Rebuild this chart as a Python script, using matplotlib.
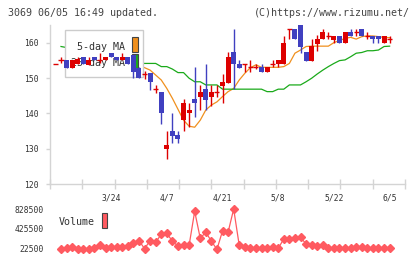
import matplotlib
matplotlib.use('Agg')
import matplotlib.pyplot as plt
import matplotlib.transforms as mtransforms
from matplotlib.patches import Rectangle
import numpy as np


# DATA (index 0 = first volume day)

day_idx = list(range(-1, 60))

opens = [154.0,
         155.2, 155.2, 153.0, 153.9, 156.1, 153.8, 156.1, 155.2, 155.2, 157.1,
         156.1, 155.2, 156.1, 156.6, 153.0, 151.2, 151.4, 146.9, 146.2, 129.8,
         135.0, 133.9, 138.1, 140.0, 144.1, 144.8, 146.9, 144.8, 146.2, 147.9,
         148.7, 157.3, 153.9, 153.9, 153.1, 153.1, 153.1, 151.9, 153.9, 153.9,
         153.9, 164.0, 164.0, 165.1, 157.3, 155.0, 159.7, 161.0, 162.0, 160.9,
         162.0, 159.9, 163.0, 163.0, 164.0, 162.0, 162.0, 162.0, 159.9, 161.0]
closes = [154.0,
          155.2, 153.0, 155.1, 155.4, 153.9, 155.2, 155.2, 155.2, 156.1, 155.9,
          155.2, 156.1, 153.9, 151.9, 150.0, 151.2, 148.8, 146.9, 140.0, 131.0,
          133.7, 132.9, 143.0, 141.0, 142.9, 146.2, 143.8, 146.2, 146.2, 149.0,
          156.1, 153.9, 153.0, 153.9, 153.1, 153.1, 151.9, 153.1, 153.9, 155.2,
          160.1, 164.0, 161.0, 159.0, 155.0, 159.1, 161.0, 163.0, 162.0, 162.0,
          159.9, 163.0, 162.0, 163.0, 162.0, 162.0, 161.0, 161.0, 162.0, 161.0]
highs = [154.0,
         155.9, 155.2, 155.2, 155.9, 156.1, 155.9, 156.1, 157.1, 156.1, 157.1,
         156.1, 157.1, 156.1, 156.6, 153.3, 152.1, 151.4, 148.1, 146.2, 135.0,
         140.0, 135.0, 144.1, 142.9, 153.3, 148.1, 154.0, 148.1, 148.1, 151.2,
         157.3, 164.0, 155.2, 153.9, 155.2, 153.9, 153.9, 153.1, 155.2, 155.2,
         162.1, 164.0, 164.0, 165.1, 157.3, 161.0, 162.3, 164.0, 163.0, 162.0,
         162.0, 163.0, 164.0, 164.0, 164.0, 163.0, 162.0, 162.0, 162.0, 162.0]
lows = [154.0,
        154.4, 153.0, 153.0, 153.9, 153.9, 153.8, 155.2, 154.4, 155.2, 155.9,
        155.2, 155.2, 153.9, 150.0, 150.0, 149.8, 146.8, 145.9, 136.9, 127.0,
        131.7, 131.7, 135.0, 136.1, 138.9, 141.0, 141.0, 142.1, 144.8, 142.9,
        148.7, 146.9, 153.0, 151.9, 151.9, 152.5, 151.9, 151.9, 153.1, 153.1,
        153.9, 161.0, 161.0, 157.1, 155.0, 155.0, 157.8, 161.0, 161.0, 159.9,
        159.9, 159.9, 162.0, 162.0, 162.0, 161.0, 159.9, 159.9, 159.9, 159.9]

ma5_idx = list(range(4, 60))
ma5 = [155.2, 155.0, 155.2, 155.4, 155.5, 155.6, 155.6, 155.6, 155.4, 154.8,
       153.6, 153.0, 152.3, 150.9, 149.5, 147.1, 144.3, 141.2, 138.1, 136.4,
       136.1, 138.1, 141.0, 142.4, 143.3, 144.8, 146.2, 147.1, 149.5, 151.4,
       153.0, 153.8, 153.1, 153.1, 153.1, 153.1, 153.3, 154.2, 157.1, 158.0,
       159.0, 159.1, 159.1, 159.1, 159.1, 160.1, 160.7, 161.3, 161.6, 161.1,
       161.8, 162.0, 162.0, 161.8, 161.6, 161.5]

ma25_idx = list(range(0, 60))
ma25 = [159.0, 158.7, 158.5, 158.1, 157.9, 157.6, 157.2, 157.0, 156.7, 156.3,
        156.0, 155.6, 155.3, 154.9, 154.3, 154.2, 154.2, 154.2, 153.3, 153.3,
        152.6, 151.6, 151.6, 150.0, 149.0, 149.0, 148.1, 148.1, 148.1, 146.9,
        146.9, 146.9, 146.9, 146.9, 146.9, 146.9, 146.9, 146.2, 146.2, 146.9,
        146.9, 148.1, 148.1, 148.1, 149.0, 150.0, 151.2, 152.3, 153.3, 154.2,
        155.0, 155.2, 156.1, 157.1, 157.3, 157.8, 157.8, 158.0, 159.0, 159.1]

volume = [16000, 36000, 70000, 16000, 22500, 16000, 36000, 97000, 36000, 70000,
          56000, 70000, 90000, 138000, 192000, 29000, 192000, 158000, 320000, 341000,
          178000, 83000, 97000, 97000, 781000, 239000, 361000, 178000, 16000, 388000,
          361000, 828000, 97000, 70000, 36000, 36000, 36000, 50000, 70000, 36000,
          226000, 226000, 239000, 260000, 124000, 104000, 90000, 110000, 36000, 50000,
          36000, 50000, 36000, 70000, 56000, 36000, 50000, 36000, 36000, 36000]

date_idx = [9, 19, 29, 39, 49, 59]
date_labels = ['3/24', '4/7', '4/21', '5/8', '5/22', '6/5']

price_ticks = [120, 130, 140, 150, 160]
vol_ticks = [22500, 425500, 828500]


# STYLE

W, H = 420, 259
RED, BLUE = '#dd0000', '#4040c0'
ORANGE, GREEN = '#f0901e', '#1aaa1a'
VOLC = '#ff5a60'
GRAY = '#d4d4d4'
TXT = '#333333'
plt.rcParams['font.family'] = 'DejaVu Sans Mono'

fig = plt.figure(figsize=(W / 100, H / 100), dpi=100)
px = mtransforms.Affine2D().scale(1 / W, -1 / H).translate(0, 1) + fig.transFigure

xlim = (-1.975, 61.76)

# main price axes
ax = fig.add_axes([50 / W, 1 - 184 / H, 355 / W, 159 / H])
ax.set_xlim(*xlim)
ax.set_ylim(120, 165.1)
for s in ['top', 'right']:
    ax.spines[s].set_visible(False)
for s in ['left', 'bottom']:
    ax.spines[s].set_color(GRAY)
    ax.spines[s].set_linewidth(1.0)

ax.set_yticks(price_ticks, [str(t) for t in price_ticks])
ax.tick_params(axis='y', length=3, width=1, color=GRAY, labelsize=5.8,
               labelcolor=TXT, pad=5.5)
ax.set_xticks(np.linspace(xlim[0], xlim[1], 12), [''] * 12)
ax.tick_params(axis='x', which='major', direction='inout', length=7, width=1,
               color=GRAY)
ax.set_xticks(date_idx, date_labels, minor=True)
ax.tick_params(axis='x', which='minor', length=0, labelsize=5.8,
               labelcolor=TXT, pad=6.5)

# moving averages (under legend box)
ax.plot(ma5_idx, ma5, color=ORANGE, lw=0.9, zorder=2)
ax.plot(ma25_idx, ma25, color=GREEN, lw=0.9, zorder=2)

# legend box, drawn below the candles
ax.add_patch(Rectangle((65, 30), 78, 47, transform=px, facecolor='white',
                       edgecolor='#cccccc', lw=1, zorder=3, clip_on=False))
ax.text(125, 47, '5-day MA', transform=px, ha='right', va='center',
        fontsize=7.2, color=TXT, zorder=3.2)
ax.text(125, 63.5, '25-day MA', transform=px, ha='right', va='center',
        fontsize=7.2, color=TXT, zorder=3.2)
ax.add_patch(Rectangle((132, 37), 5.5, 15, transform=px, facecolor=ORANGE,
                       edgecolor='#444444', lw=0.8, zorder=3.2, clip_on=False))
ax.add_patch(Rectangle((132, 54), 5.5, 15, transform=px, facecolor=GREEN,
                       edgecolor='#444444', lw=0.8, zorder=3.2, clip_on=False))

# candles
bw = 0.9
for x, o, c, h, l in zip(day_idx, opens, closes, highs, lows):
    col = BLUE if c < o else RED
    ax.vlines(x, l, h, color=col, lw=1.0, zorder=4)
    if abs(c - o) < 0.05:
        ax.hlines(o, x - bw / 2, x + bw / 2, color=col, lw=1.0, zorder=4)
    else:
        ax.bar(x, abs(c - o), bottom=min(o, c), width=bw, color=col,
               linewidth=0, zorder=5)

# volume axes
vax = fig.add_axes([50 / W, 1 - 254 / H, 355 / W, 51 / H])
vax.set_xlim(*xlim)
vax.set_ylim(-78250, 949400)
for s in vax.spines.values():
    s.set_visible(False)
vax.set_xticks([])
vax.set_yticks(vol_ticks, [str(t) for t in vol_ticks])
vax.tick_params(axis='y', length=0, labelsize=5.8, labelcolor=TXT, pad=4.5)
vax.plot(range(len(volume)), volume, color=VOLC, lw=0.9, marker='D',
         ms=4.0, mec=VOLC, mfc=VOLC, clip_on=False)

vax.text(59, 222, 'Volume', transform=px, ha='left', va='center',
         fontsize=7.2, color=TXT)
vax.add_patch(Rectangle((101.5, 213), 5.5, 15, transform=px, facecolor=VOLC,
                        edgecolor='#444444', lw=0.8, clip_on=False))

# header
fig.text(8 / W, 1 - 12.5 / H, '3069 06/05 16:49 updated.', ha='left',
         va='center', fontsize=7.2, color='#444444')
fig.text(410 / W, 1 - 12.5 / H, '(C)https://www.rizumu.net/', ha='right',
         va='center', fontsize=7.2, color='#444444')

fig.savefig('out.png', dpi=100)
